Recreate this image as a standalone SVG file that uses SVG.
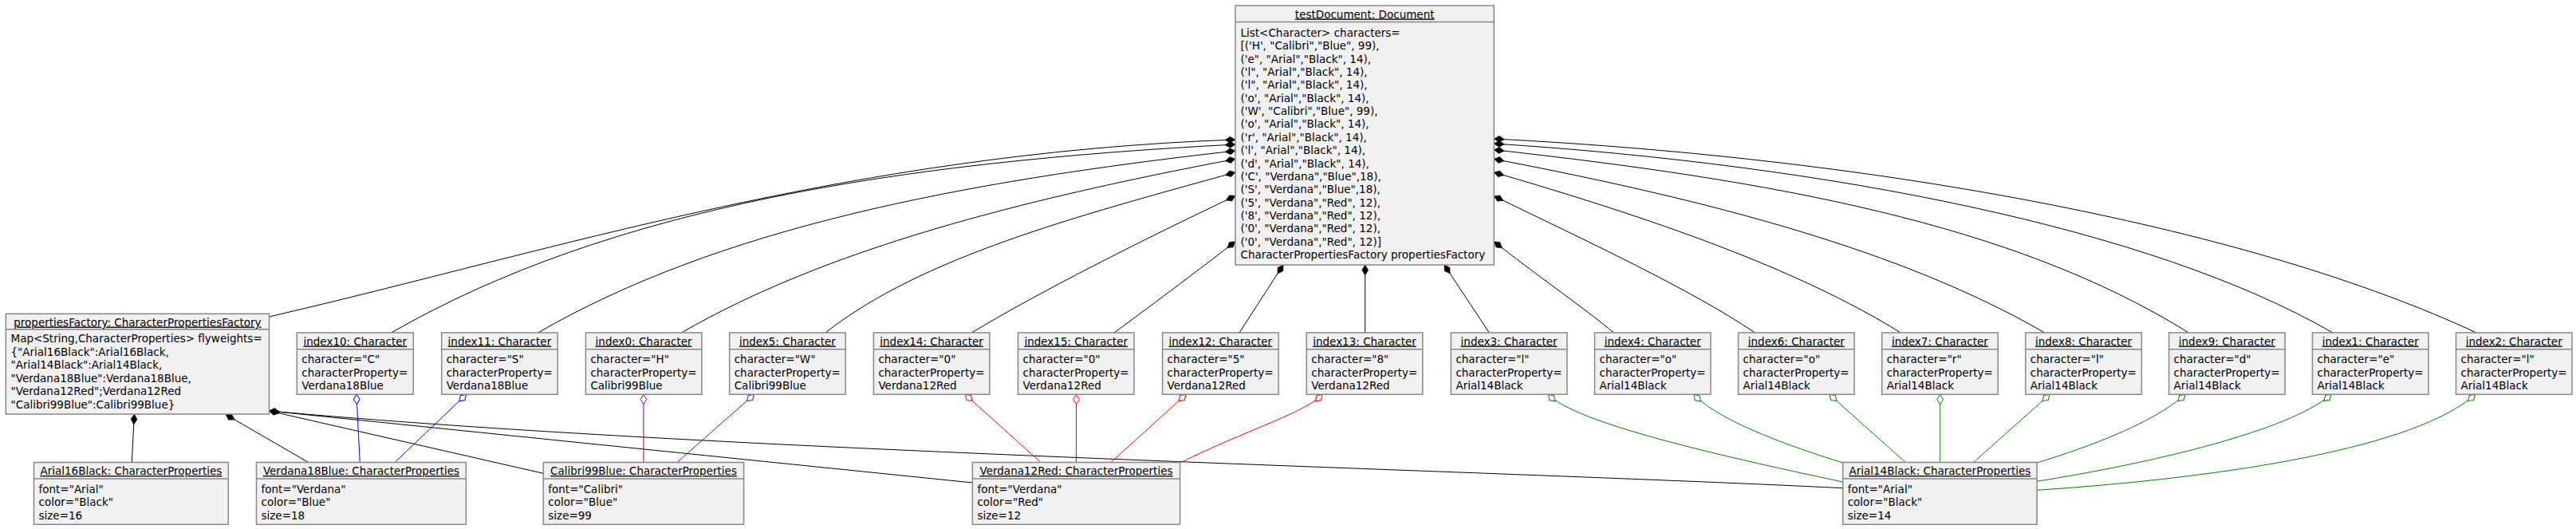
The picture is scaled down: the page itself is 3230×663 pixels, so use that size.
<svg xmlns="http://www.w3.org/2000/svg" width="3230" height="663" viewBox="0 0 3230 663">
<style>
.box{fill:#F1F1F1;stroke:#888888;stroke-width:1.5}
.sep{stroke:#888888;stroke-width:1.5}
.t{font-family:"DejaVu Sans","Liberation Sans",sans-serif;font-size:13.5px;fill:#000}
.ti{text-anchor:middle;text-decoration:underline}
.k{fill:none;stroke:#000;stroke-width:1;marker-end:url(#dF)}
.gb{fill:none;stroke:#0000FF;stroke-width:1;marker-end:url(#hB)}
.gp{fill:none;stroke:#800080;stroke-width:1;marker-end:url(#hP)}
.gr{fill:none;stroke:#FF0000;stroke-width:1;marker-end:url(#hR)}
.gg{fill:none;stroke:#008000;stroke-width:1;marker-end:url(#hG)}
</style>
<defs>
<marker id="dF" viewBox="-1 -5 15 10" refX="13" refY="0" markerWidth="15" markerHeight="10" markerUnits="userSpaceOnUse" orient="auto"><path d="M0,0 L6.5,-4 L13,0 L6.5,4 Z" fill="#000" stroke="#000" stroke-width="0.5"/></marker>
<marker id="hB" viewBox="-1 -5 14 10" refX="12" refY="0" markerWidth="14" markerHeight="10" markerUnits="userSpaceOnUse" orient="auto"><path d="M0,0 L6,-4 L12,0 L6,4 Z" fill="#fff" stroke="#0000FF" stroke-width="1"/></marker>
<marker id="hP" viewBox="-1 -5 14 10" refX="12" refY="0" markerWidth="14" markerHeight="10" markerUnits="userSpaceOnUse" orient="auto"><path d="M0,0 L6,-4 L12,0 L6,4 Z" fill="#fff" stroke="#800080" stroke-width="1"/></marker>
<marker id="hR" viewBox="-1 -5 14 10" refX="12" refY="0" markerWidth="14" markerHeight="10" markerUnits="userSpaceOnUse" orient="auto"><path d="M0,0 L6,-4 L12,0 L6,4 Z" fill="#fff" stroke="#FF0000" stroke-width="1"/></marker>
<marker id="hG" viewBox="-1 -5 14 10" refX="12" refY="0" markerWidth="14" markerHeight="10" markerUnits="userSpaceOnUse" orient="auto"><path d="M0,0 L6,-4 L12,0 L6,4 Z" fill="#fff" stroke="#008000" stroke-width="1"/></marker>
</defs>
<rect width="3230" height="663" fill="#fff"/>
<g id="connectors">
<path class="k" d="M337.5,397 C692,315 1064,192 1549,175"/>
<path class="k" d="M490.6,417 C766,259 1127,203 1549,181"/>
<path class="k" d="M674.6,417 C901.6,286 1201,228 1549,189"/>
<path class="k" d="M854.5,417 C1034.6,313 1276,251 1549,199.3"/>
<path class="k" d="M1035,417 C1156,322 1350,271 1549,216"/>
<path class="k" d="M1218.4,417 C1303,366 1430,302 1549,245.5"/>
<path class="k" d="M1397,417 C1434,390 1501,340 1549,302.7"/>
<path class="k" d="M1554,417 L1609,332"/>
<path class="k" d="M1711.7,417 L1711.7,332"/>
<path class="k" d="M1867.3,417 L1811,332"/>
<path class="k" d="M2023.5,417 C1989,388 1920,340 1873.3,302.7"/>
<path class="k" d="M2200.5,417 C2119,362 1991,303 1873.3,245.7"/>
<path class="k" d="M2383.2,417 C2253,336 2069,273 1873.3,216"/>
<path class="k" d="M2563.8,417 C2384.5,313.5 2144,251 1873.3,199.3"/>
<path class="k" d="M2744.3,417 C2522.5,278.7 2219,226 1873.3,187.7"/>
<path class="k" d="M2925,417 C2697,285.5 2293,207 1873.3,180"/>
<path class="k" d="M3105,417 C2826,287 2366,199 1873.3,174"/>
<path class="k" d="M165.3,579.5 L168.4,519"/>
<path class="k" d="M386.7,579.5 L283,519.5"/>
<path class="k" d="M681.3,593.3 L337.5,515"/>
<path class="k" d="M1219.4,605 L337.5,515"/>
<path class="k" d="M2310.7,611.7 C1800,587 900,566 337.5,515"/>
<path class="gb" d="M451.3,579.5 L446.9,494.5"/>
<path class="gb" d="M495,579.5 L584.5,494.5"/>
<path class="gp" d="M807,579.5 L807,494.5"/>
<path class="gp" d="M849,579.5 L945.5,494.5"/>
<path class="gr" d="M1305,579.5 L1210.3,494.5"/>
<path class="gr" d="M1349.5,579.5 L1349.5,494.5"/>
<path class="gr" d="M1392.9,579.5 L1487,494.5"/>
<path class="gr" d="M1481,579.5 C1560,540 1635,518 1658,494.5"/>
<path class="gg" d="M2310.7,604 C2150,570 1976,530 1941.5,494.5"/>
<path class="gg" d="M2310.7,580 C2230,555 2153,525 2124,494.5"/>
<path class="gg" d="M2389.3,579.5 L2294,494.5"/>
<path class="gg" d="M2432.7,579.5 L2432.7,494.5"/>
<path class="gg" d="M2474.5,579.5 L2570,494.5"/>
<path class="gg" d="M2554,580 C2620,560 2700,530 2740,494.5"/>
<path class="gg" d="M2554,603.3 C2700,580 2870,540 2923,494.5"/>
<path class="gg" d="M2554,614.3 C2800,598 3030,560 3103.5,494.5"/>
</g>
<g id="testDocument">
<rect class="box" x="1549" y="7" width="324.3" height="325"/>
<text class="t ti" x="1711.2" y="22.5">testDocument: Document</text>
<line class="sep" x1="1549" y1="27.5" x2="1873.3" y2="27.5"/>
<text class="t" x="1555.5" y="46"><tspan x="1555.5" dy="0">List&lt;Character&gt; characters=</tspan><tspan x="1555.5" dy="16.35">[('H', "Calibri","Blue", 99),</tspan><tspan x="1555.5" dy="16.35">('e", "Arial","Black", 14),</tspan><tspan x="1555.5" dy="16.35">('l", "Arial","Black", 14),</tspan><tspan x="1555.5" dy="16.35">('l", "Arial","Black", 14),</tspan><tspan x="1555.5" dy="16.35">('o', "Arial","Black", 14),</tspan><tspan x="1555.5" dy="16.35">('W', "Calibri","Blue", 99),</tspan><tspan x="1555.5" dy="16.35">('o', "Arial","Black", 14),</tspan><tspan x="1555.5" dy="16.35">('r', "Arial","Black", 14),</tspan><tspan x="1555.5" dy="16.35">('l', "Arial","Black", 14),</tspan><tspan x="1555.5" dy="16.35">('d', "Arial","Black", 14),</tspan><tspan x="1555.5" dy="16.35">('C', "Verdana","Blue",18),</tspan><tspan x="1555.5" dy="16.35">('S', "Verdana","Blue",18),</tspan><tspan x="1555.5" dy="16.35">('5', "Verdana","Red", 12),</tspan><tspan x="1555.5" dy="16.35">('8', "Verdana","Red", 12),</tspan><tspan x="1555.5" dy="16.35">('0', "Verdana","Red", 12),</tspan><tspan x="1555.5" dy="16.35">('0', "Verdana","Red", 12)]</tspan><tspan x="1555.5" dy="16.35">CharacterPropertiesFactory propertiesFactory</tspan></text>
</g>
<g id="propertiesFactory">
<rect class="box" x="7.3" y="393.3" width="330.2" height="125.7"/>
<text class="t ti" x="172.4" y="408.5">propertiesFactory: CharacterPropertiesFactory</text>
<line class="sep" x1="7.3" y1="412.8" x2="337.5" y2="412.8"/>
<text class="t" x="13.5" y="429"><tspan x="13.5" dy="0">Map&lt;String,CharacterProperties&gt; flyweights=</tspan><tspan x="13.5" dy="16.5">{"Arial16Black":Arial16Black,</tspan><tspan x="13.5" dy="16.5">"Arial14Black":Arial14Black,</tspan><tspan x="13.5" dy="16.5">"Verdana18Blue":Verdana18Blue,</tspan><tspan x="13.5" dy="16.5">"Verdana12Red";Verdana12Red</tspan><tspan x="13.5" dy="16.5">"Calibri99Blue":Calibri99Blue}</tspan></text>
</g>
<g id="index10"><rect class="box" x="372.3" y="417" width="146" height="77.3"/><text class="t ti" x="445.3" y="432.5">index10: Character</text><line class="sep" x1="372.3" y1="437.7" x2="518.3" y2="437.7"/><text class="t" x="378.3" y="455"><tspan x="378.3">character="C"</tspan><tspan x="378.3" dy="16.5">characterProperty=</tspan><tspan x="378.3" dy="16.5">Verdana18Blue</tspan></text></g>
<g id="index11"><rect class="box" x="553.7" y="417" width="145.5" height="77.3"/><text class="t ti" x="626.4" y="432.5">index11: Character</text><line class="sep" x1="553.7" y1="437.7" x2="699.2" y2="437.7"/><text class="t" x="559.7" y="455"><tspan x="559.7">character="S"</tspan><tspan x="559.7" dy="16.5">characterProperty=</tspan><tspan x="559.7" dy="16.5">Verdana18Blue</tspan></text></g>
<g id="index0"><rect class="box" x="734.4" y="417" width="145.5" height="77.3"/><text class="t ti" x="807.1" y="432.5">index0: Character</text><line class="sep" x1="734.4" y1="437.7" x2="879.9" y2="437.7"/><text class="t" x="740.4" y="455"><tspan x="740.4">character="H"</tspan><tspan x="740.4" dy="16.5">characterProperty=</tspan><tspan x="740.4" dy="16.5">Calibri99Blue</tspan></text></g>
<g id="index5"><rect class="box" x="914.7" y="417" width="145.5" height="77.3"/><text class="t ti" x="987.4" y="432.5">index5: Character</text><line class="sep" x1="914.7" y1="437.7" x2="1060.2" y2="437.7"/><text class="t" x="920.7" y="455"><tspan x="920.7">character="W"</tspan><tspan x="920.7" dy="16.5">characterProperty=</tspan><tspan x="920.7" dy="16.5">Calibri99Blue</tspan></text></g>
<g id="index14"><rect class="box" x="1095.4" y="417" width="145.5" height="77.3"/><text class="t ti" x="1168.1" y="432.5">index14: Character</text><line class="sep" x1="1095.4" y1="437.7" x2="1240.9" y2="437.7"/><text class="t" x="1101.4" y="455"><tspan x="1101.4">character="0"</tspan><tspan x="1101.4" dy="16.5">characterProperty=</tspan><tspan x="1101.4" dy="16.5">Verdana12Red</tspan></text></g>
<g id="index15"><rect class="box" x="1276.5" y="417" width="145.5" height="77.3"/><text class="t ti" x="1349.2" y="432.5">index15: Character</text><line class="sep" x1="1276.5" y1="437.7" x2="1422" y2="437.7"/><text class="t" x="1282.5" y="455"><tspan x="1282.5">character="0"</tspan><tspan x="1282.5" dy="16.5">characterProperty=</tspan><tspan x="1282.5" dy="16.5">Verdana12Red</tspan></text></g>
<g id="index12"><rect class="box" x="1457.6" y="417" width="145.5" height="77.3"/><text class="t ti" x="1530.3" y="432.5">index12: Character</text><line class="sep" x1="1457.6" y1="437.7" x2="1603.1" y2="437.7"/><text class="t" x="1463.6" y="455"><tspan x="1463.6">character="5"</tspan><tspan x="1463.6" dy="16.5">characterProperty=</tspan><tspan x="1463.6" dy="16.5">Verdana12Red</tspan></text></g>
<g id="index13"><rect class="box" x="1638.3" y="417" width="145.5" height="77.3"/><text class="t ti" x="1711" y="432.5">index13: Character</text><line class="sep" x1="1638.3" y1="437.7" x2="1783.8" y2="437.7"/><text class="t" x="1644.3" y="455"><tspan x="1644.3">character="8"</tspan><tspan x="1644.3" dy="16.5">characterProperty=</tspan><tspan x="1644.3" dy="16.5">Verdana12Red</tspan></text></g>
<g id="index3"><rect class="box" x="1819.4" y="417" width="145.5" height="77.3"/><text class="t ti" x="1892.1" y="432.5">index3: Character</text><line class="sep" x1="1819.4" y1="437.7" x2="1964.9" y2="437.7"/><text class="t" x="1825.4" y="455"><tspan x="1825.4">character="l"</tspan><tspan x="1825.4" dy="16.5">characterProperty=</tspan><tspan x="1825.4" dy="16.5">Arial14Black</tspan></text></g>
<g id="index4"><rect class="box" x="1999.5" y="417" width="145.5" height="77.3"/><text class="t ti" x="2072.2" y="432.5">index4: Character</text><line class="sep" x1="1999.5" y1="437.7" x2="2145" y2="437.7"/><text class="t" x="2005.5" y="455"><tspan x="2005.5">character="o"</tspan><tspan x="2005.5" dy="16.5">characterProperty=</tspan><tspan x="2005.5" dy="16.5">Arial14Black</tspan></text></g>
<g id="index6"><rect class="box" x="2179.6" y="417" width="145.5" height="77.3"/><text class="t ti" x="2252.3" y="432.5">index6: Character</text><line class="sep" x1="2179.6" y1="437.7" x2="2325.1" y2="437.7"/><text class="t" x="2185.6" y="455"><tspan x="2185.6">character="o"</tspan><tspan x="2185.6" dy="16.5">characterProperty=</tspan><tspan x="2185.6" dy="16.5">Arial14Black</tspan></text></g>
<g id="index7"><rect class="box" x="2359.7" y="417" width="145.5" height="77.3"/><text class="t ti" x="2432.4" y="432.5">index7: Character</text><line class="sep" x1="2359.7" y1="437.7" x2="2505.2" y2="437.7"/><text class="t" x="2365.7" y="455"><tspan x="2365.7">character="r"</tspan><tspan x="2365.7" dy="16.5">characterProperty=</tspan><tspan x="2365.7" dy="16.5">Arial14Black</tspan></text></g>
<g id="index8"><rect class="box" x="2539.8" y="417" width="145.5" height="77.3"/><text class="t ti" x="2612.5" y="432.5">index8: Character</text><line class="sep" x1="2539.8" y1="437.7" x2="2685.3" y2="437.7"/><text class="t" x="2545.8" y="455"><tspan x="2545.8">character="l"</tspan><tspan x="2545.8" dy="16.5">characterProperty=</tspan><tspan x="2545.8" dy="16.5">Arial14Black</tspan></text></g>
<g id="index9"><rect class="box" x="2719.6" y="417" width="145.5" height="77.3"/><text class="t ti" x="2792.3" y="432.5">index9: Character</text><line class="sep" x1="2719.6" y1="437.7" x2="2865.1" y2="437.7"/><text class="t" x="2725.6" y="455"><tspan x="2725.6">character="d"</tspan><tspan x="2725.6" dy="16.5">characterProperty=</tspan><tspan x="2725.6" dy="16.5">Arial14Black</tspan></text></g>
<g id="index1"><rect class="box" x="2899.5" y="417" width="145.5" height="77.3"/><text class="t ti" x="2972.2" y="432.5">index1: Character</text><line class="sep" x1="2899.5" y1="437.7" x2="3045" y2="437.7"/><text class="t" x="2905.5" y="455"><tspan x="2905.5">character="e"</tspan><tspan x="2905.5" dy="16.5">characterProperty=</tspan><tspan x="2905.5" dy="16.5">Arial14Black</tspan></text></g>
<g id="index2"><rect class="box" x="3079.5" y="417" width="145.5" height="77.3"/><text class="t ti" x="3152.2" y="432.5">index2: Character</text><line class="sep" x1="3079.5" y1="437.7" x2="3225" y2="437.7"/><text class="t" x="3085.5" y="455"><tspan x="3085.5">character="l"</tspan><tspan x="3085.5" dy="16.5">characterProperty=</tspan><tspan x="3085.5" dy="16.5">Arial14Black</tspan></text></g>
<g id="Arial16Black"><rect class="box" x="42.5" y="579.5" width="243.8" height="77.8"/><text class="t ti" x="164.4" y="595">Arial16Black: CharacterProperties</text><line class="sep" x1="42.5" y1="600" x2="286.3" y2="600"/><text class="t" x="48.5" y="617.5"><tspan x="48.5">font="Arial"</tspan><tspan x="48.5" dy="16.5">color="Black"</tspan><tspan x="48.5" dy="16.5">size=16</tspan></text></g>
<g id="Verdana18Blue"><rect class="box" x="321.5" y="579.5" width="262.9" height="77.8"/><text class="t ti" x="453" y="595">Verdana18Blue: CharacterProperties</text><line class="sep" x1="321.5" y1="600" x2="584.4" y2="600"/><text class="t" x="327.5" y="617.5"><tspan x="327.5">font="Verdana"</tspan><tspan x="327.5" dy="16.5">color="Blue"</tspan><tspan x="327.5" dy="16.5">size=18</tspan></text></g>
<g id="Calibri99Blue"><rect class="box" x="681.3" y="579.5" width="251.3" height="77.8"/><text class="t ti" x="807" y="595">Calibri99Blue: CharacterProperties</text><line class="sep" x1="681.3" y1="600" x2="932.6" y2="600"/><text class="t" x="687.3" y="617.5"><tspan x="687.3">font="Calibri"</tspan><tspan x="687.3" dy="16.5">color="Blue"</tspan><tspan x="687.3" dy="16.5">size=99</tspan></text></g>
<g id="Verdana12Red"><rect class="box" x="1219.4" y="579.5" width="260.2" height="77.8"/><text class="t ti" x="1349.5" y="595">Verdana12Red: CharacterProperties</text><line class="sep" x1="1219.4" y1="600" x2="1479.6" y2="600"/><text class="t" x="1225.4" y="617.5"><tspan x="1225.4">font="Verdana"</tspan><tspan x="1225.4" dy="16.5">color="Red"</tspan><tspan x="1225.4" dy="16.5">size=12</tspan></text></g>
<g id="Arial14Black"><rect class="box" x="2310.7" y="579.5" width="243.4" height="77.8"/><text class="t ti" x="2432.4" y="595">Arial14Black: CharacterProperties</text><line class="sep" x1="2310.7" y1="600" x2="2554.1" y2="600"/><text class="t" x="2316.7" y="617.5"><tspan x="2316.7">font="Arial"</tspan><tspan x="2316.7" dy="16.5">color="Black"</tspan><tspan x="2316.7" dy="16.5">size=14</tspan></text></g>
</svg>
